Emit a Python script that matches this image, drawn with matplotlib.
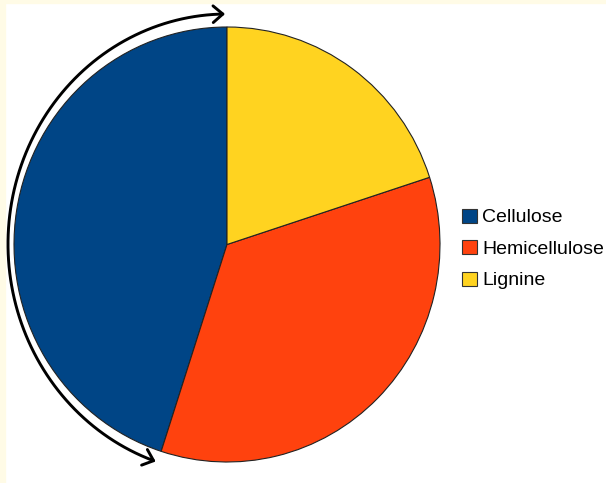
import matplotlib
matplotlib.use("Agg")
import matplotlib.pyplot as plt
from matplotlib.patches import FancyArrowPatch, Rectangle
from matplotlib.path import Path
import numpy as np

labels = ["Cellulose", "Hemicellulose", "Lignine"]
shares = [45, 35, 20]
colors = ["#004586", "#ff420e", "#ffd320"]

W, H = 606, 483
fig = plt.figure(figsize=(W / 100, H / 100), dpi=100)
fig.patch.set_facecolor("white")

# faint cream border strips (left and top) seen on the original
fig.patches.append(Rectangle((0, 0), 5 / W, 1, transform=fig.transFigure,
                             color="#fffbe6", zorder=0))
fig.patches.append(Rectangle((0, 1 - 3 / H), 1, 3 / H, transform=fig.transFigure,
                             color="#fffbe6", zorder=0))

# pie axes sized to the pie's bounding box (pixels)
left, right, top, bottom = 14, 440, 27, 462
ax = fig.add_axes([left / W, 1 - bottom / H, (right - left) / W, (bottom - top) / H])
wedges, _ = ax.pie(shares, colors=colors, startangle=90, counterclock=True,
                   wedgeprops=dict(edgecolor="#222222", linewidth=0.8))
ax.set_aspect("auto")
ax.set_xlim(-1, 1)
ax.set_ylim(-1, 1)
ax.axis("off")

# overlay in pixel coordinates for the curved arrow
ov = fig.add_axes([0, 0, 1, 1], zorder=5)
ov.set_xlim(0, W)
ov.set_ylim(H, 0)
ov.axis("off")
ov.patch.set_alpha(0)

cx, cy, rx, ry = 227, 244, 219, 230
theta = np.radians(np.linspace(90.5, 251, 200))
xs = cx + rx * np.cos(theta)
ys = cy - ry * np.sin(theta)
arc = Path(np.column_stack([xs, ys]))
arrow = FancyArrowPatch(path=arc, arrowstyle="<->,head_length=0.35,head_width=0.3",
                        mutation_scale=20, lw=2.1, color="black",
                        transform=ov.transData)
ov.add_patch(arrow)

leg = fig.legend(wedges, labels, loc="center left",
                 bbox_to_anchor=(462 / W, 1 - 249 / H), frameon=False,
                 prop=dict(family="Liberation Sans", size=14),
                 handlelength=0.75, handleheight=0.75, handletextpad=0.3,
                 labelspacing=0.7, borderpad=0, borderaxespad=0)
for h in leg.legend_handles:
    h.set_edgecolor("#333333")
    h.set_linewidth(0.8)

fig.savefig("out.png", dpi=100)
